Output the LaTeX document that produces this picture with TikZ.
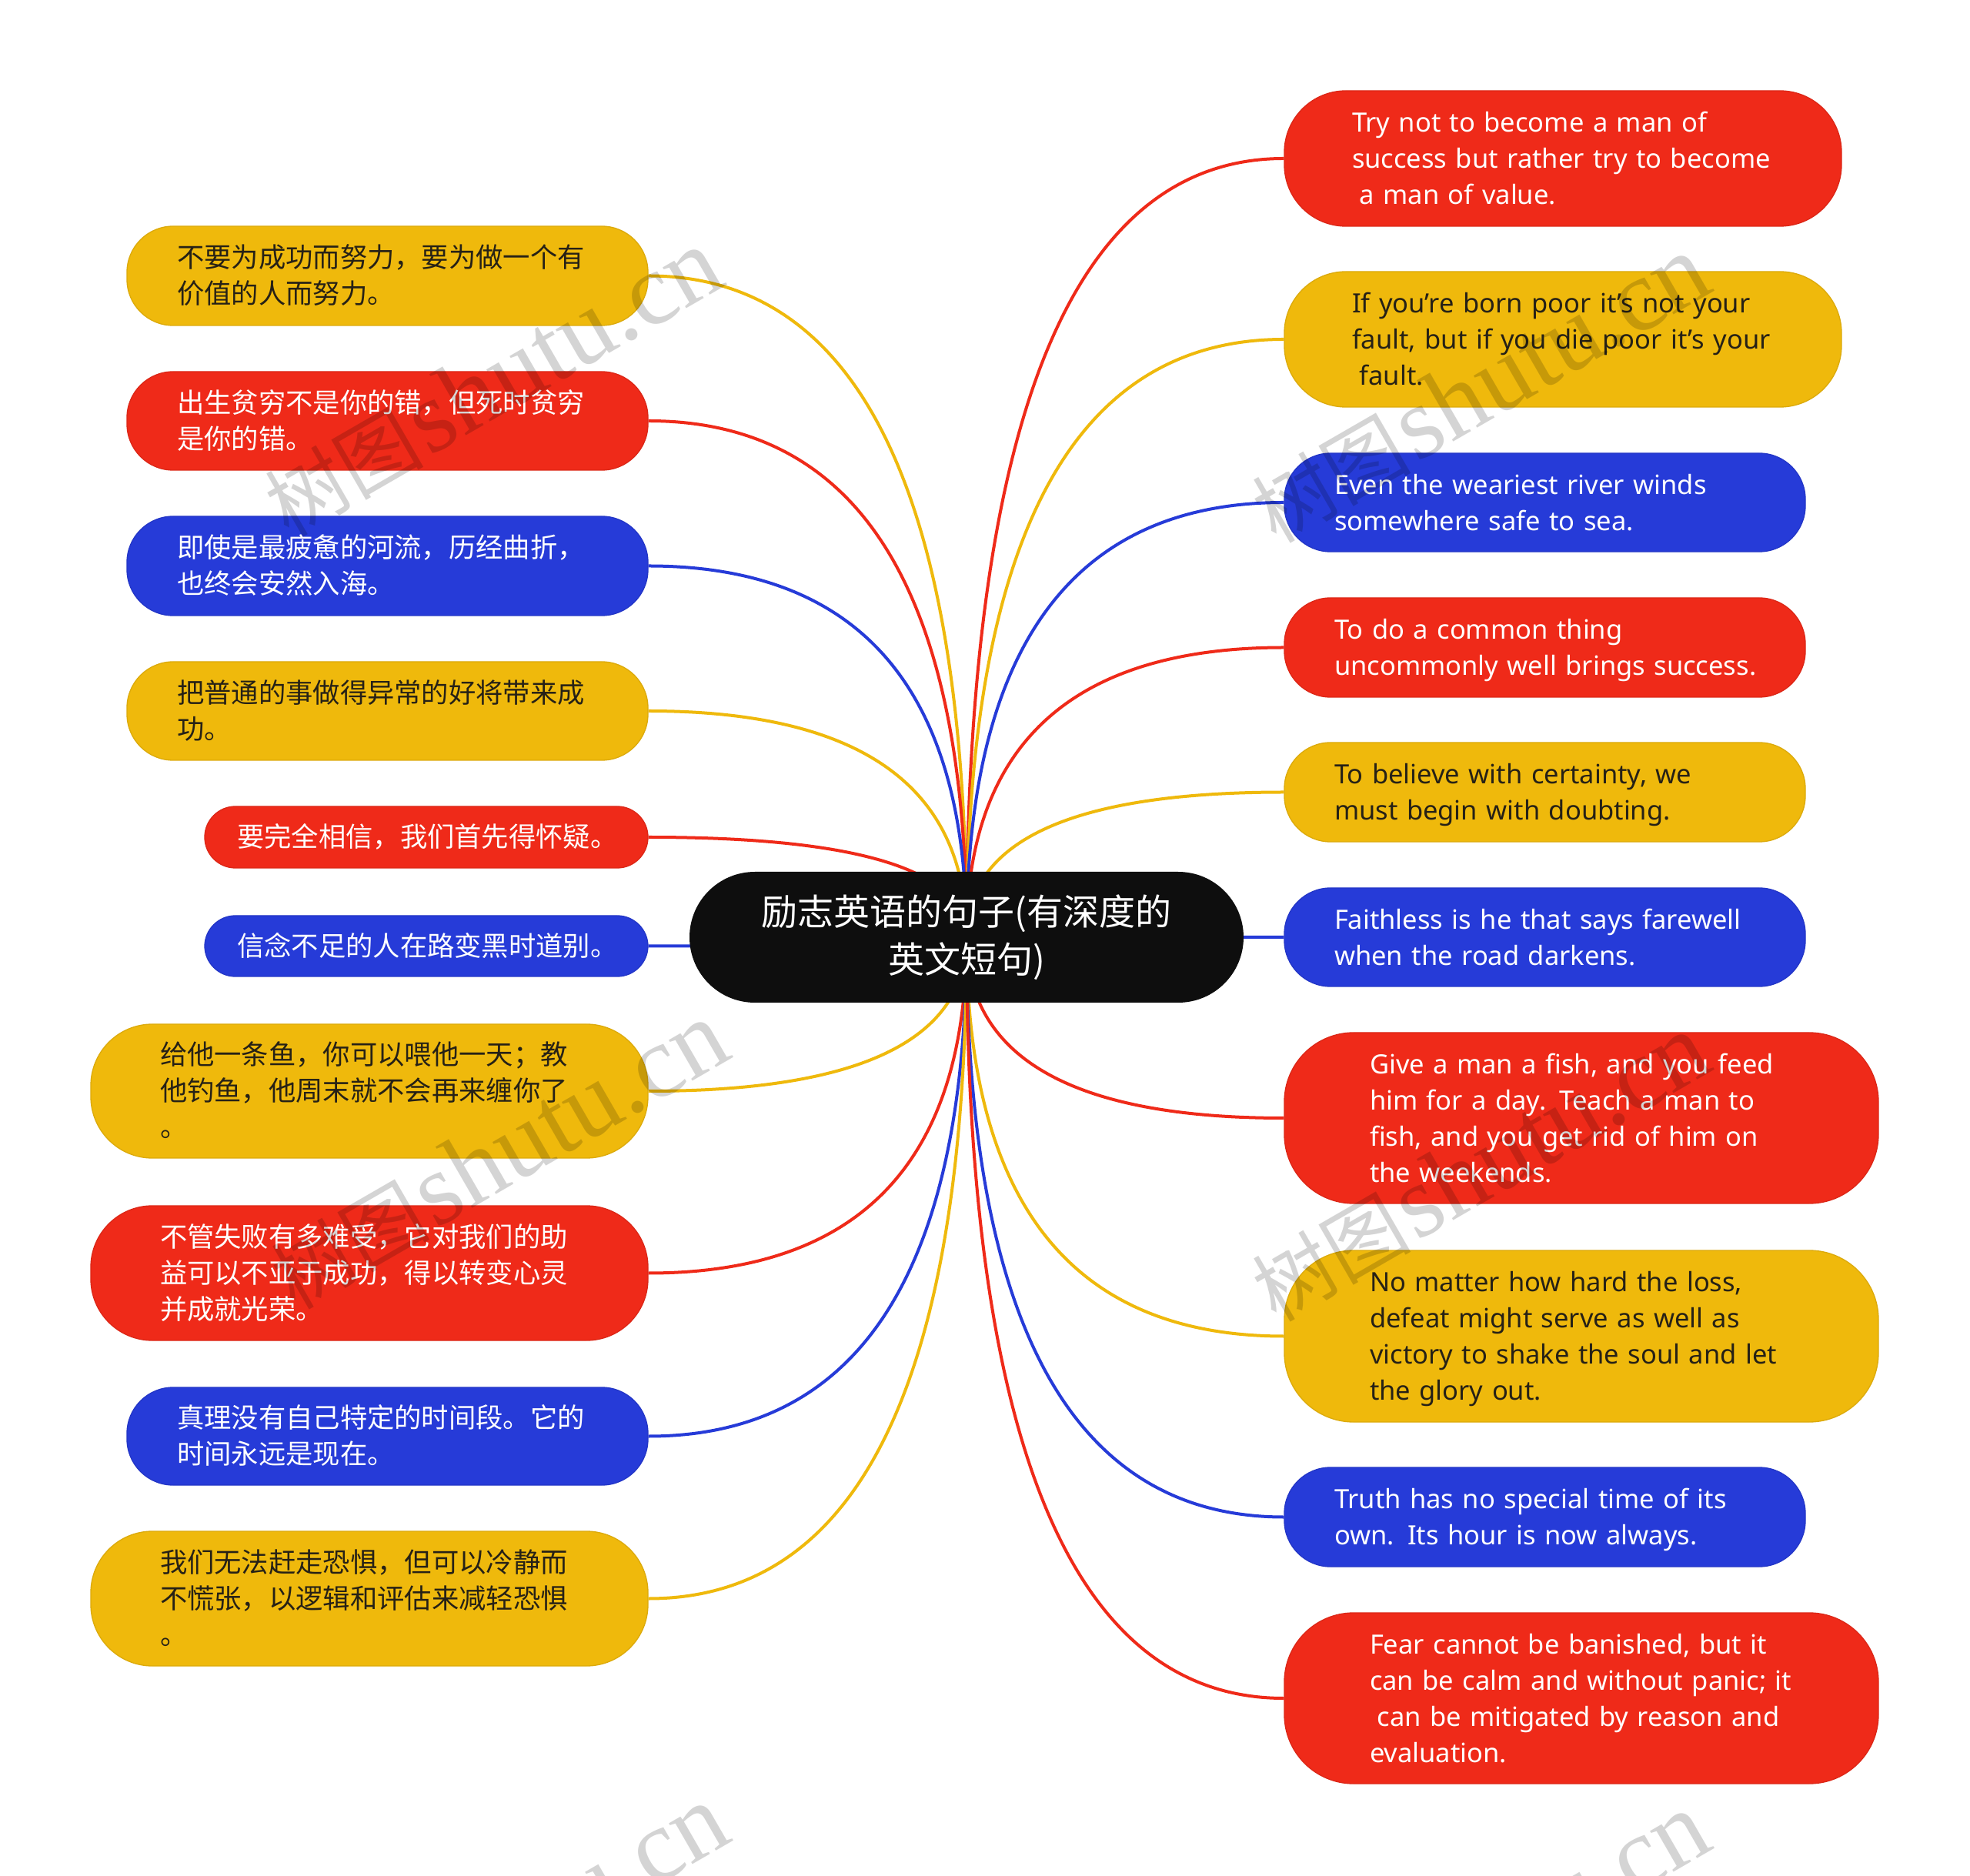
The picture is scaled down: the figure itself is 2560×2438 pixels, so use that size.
\documentclass[tikz,border=0pt]{standalone}
\usepackage{fontspec}
\setmainfont{Noto Sans}
\newfontfamily\cjk{Noto Sans CJK SC}
\newfontfamily\wmserif{Liberation Serif}
\usetikzlibrary{calc,backgrounds}
\definecolor{cR}{RGB}{239,42,25}
\definecolor{cY}{RGB}{239,185,12}
\definecolor{cB}{RGB}{38,59,216}
\definecolor{cK}{RGB}{14,14,14}
\definecolor{cT}{RGB}{38,33,22}
\tikzset{
  rbox/.style={fill=cR, draw=cR!92!black, line width=0.4pt, text=white},
  ybox/.style={fill=cY, draw=cY!92!black, line width=0.4pt, text=cT},
  bbox/.style={fill=cB, draw=cB!92!black, line width=0.4pt, text=white},
  entext/.style={font=\fontsize{10.35pt}{14.1pt}\selectfont},
  cntext/.style={font=\cjk\fontsize{10.6pt}{14.1pt}\selectfont},
  link/.style={line width=1.2pt},
  wmark/.style={text=black, opacity=0.17, rotate=30, inner sep=0pt}
}
% name, style, x1, y1, x2, y2, pad, radius, text
\newcommand\bubble[9]{%
  \pgfmathsetmacro\bcx{(#3+#5)/2}%
  \pgfmathsetmacro\bcy{(#4+#6)/2}%
  \pgfmathsetmacro\bw{(#5-#3)*0.3}%
  \pgfmathsetmacro\bh{(#6-#4)*0.3}%
  \pgfmathsetmacro\btw{(#5-#3-2*#7)*0.3}%
  \pgfmathsetmacro\br{#8*0.3}%
  \node[#2, inner sep=0pt, align=left, minimum width=\bw pt, minimum height=\bh pt,
        text width=\btw pt, rounded corners=\br pt] (#1) at (\bcx,\bcy)
        {\raisebox{-1pt}[\height][\depth]{\begin{tabular}{@{}l@{}}#9\end{tabular}}};%
}
\begin{document}
\begin{tikzpicture}[x=0.3pt, y=-0.3pt]
\useasboundingbox (0,0) rectangle (2560,2438);

% central node
\node[fill=cK, text=white, rounded corners=25.5pt, minimum width=216pt, minimum height=51pt,
      inner sep=0pt, align=center, font=\cjk\fontsize{14.1pt}{18.6pt}\selectfont]
      (root) at (1256,1218) {励志英语的句子(有深度的\\英文短句)};

% left nodes
\bubble{L1}{ybox,cntext}{165}{294}{842}{423}{65}{60}{不要为成功而努力，要为做一个有\\价值的人而努力。}
\bubble{L2}{rbox,cntext}{165}{483}{842}{611}{65}{60}{出生贫穷不是你的错，但死时贫穷\\是你的错。}
\bubble{L3}{bbox,cntext}{165}{671}{842}{800}{65}{60}{即使是最疲惫的河流，历经曲折，\\也终会安然入海。}
\bubble{L4}{ybox,cntext}{165}{860}{842}{988}{65}{60}{把普通的事做得异常的好将带来成\\功。}
\bubble{L5}{rbox,cntext}{266}{1048}{842}{1128}{42}{40}{要完全相信，我们首先得怀疑。}
\bubble{L6}{bbox,cntext}{266}{1190}{842}{1269}{42}{40}{信念不足的人在路变黑时道别。}
\bubble{L7}{ybox,cntext}{118}{1331}{842}{1505}{90}{80}{给他一条鱼，你可以喂他一天；教\\他钓鱼，他周末就不会再来缠你了\\。}
\bubble{L8}{rbox,cntext}{118}{1567}{842}{1742}{90}{80}{不管失败有多难受，它对我们的助\\益可以不亚于成功，得以转变心灵\\并成就光荣。}
\bubble{L9}{bbox,cntext}{165}{1803}{842}{1930}{65}{60}{真理没有自己特定的时间段。它的\\时间永远是现在。}
\bubble{L10}{ybox,cntext}{118}{1990}{842}{2165}{90}{80}{我们无法赶走恐惧，但可以冷静而\\不慌张，以逻辑和评估来减轻恐惧\\。}

% right nodes
\bubble{R1}{rbox,entext}{1669}{118}{2393}{294}{88}{80}{Try not to become a man of\\success but rather try to become\\\hspace*{0.28em}a man of value.}
\bubble{R2}{ybox,entext}{1669}{353}{2393}{529}{88}{80}{If you’re born poor it’s not your\\fault, but if you die poor it’s your\\\hspace*{0.28em}fault.}
\bubble{R3}{bbox,entext}{1669}{589}{2346}{717}{65}{60}{Even the weariest river winds\\somewhere safe to sea.}
\bubble{R4}{rbox,entext}{1669}{777}{2346}{906}{65}{60}{To do a common thing\\uncommonly well brings success.}
\bubble{R5}{ybox,entext}{1669}{965}{2346}{1094}{65}{60}{To believe with certainty, we\\must begin with doubting.}
\bubble{R6}{bbox,entext}{1669}{1154}{2346}{1282}{65}{60}{Faithless is he that says farewell\\when the road darkens.}
\bubble{R7}{rbox,entext}{1669}{1342}{2441}{1564}{111}{90}{Give a man a fish, and you feed\\him for a day. Teach a man to\\fish, and you get rid of him on\\the weekends.}
\bubble{R8}{ybox,entext}{1669}{1625}{2441}{1848}{111}{90}{No matter how hard the loss,\\defeat might serve as well as\\victory to shake the soul and let\\the glory out.}
\bubble{R9}{bbox,entext}{1669}{1907}{2346}{2036}{65}{60}{Truth has no special time of its\\own. Its hour is now always.}
\bubble{R10}{rbox,entext}{1669}{2096}{2441}{2318}{111}{90}{Fear cannot be banished, but it\\can be calm and without panic; it\\\hspace*{0.28em}can be mitigated by reason and\\evaluation.}

% connectors (quadratic curves from the centre of the root)
\begin{scope}[on background layer]
  \fill[white] (0,0) rectangle (2560,2438);
  \foreach \n/\c in {L1/cY,L2/cR,L3/cB,L4/cY,L5/cR,L6/cB,L7/cY,L8/cR,L9/cB,L10/cY}
    \draw[link,\c] (root.center) .. controls ($(root.center)!2/3!(root.center|-\n.east)$)
      and ($(\n.east)!2/3!(root.center|-\n.east)$) .. (\n.east);
  \foreach \n/\c in {R1/cR,R2/cY,R3/cB,R4/cR,R5/cY,R6/cB,R7/cR,R8/cY,R9/cB,R10/cR}
    \draw[link,\c] (root.center) .. controls ($(root.center)!2/3!(root.center|-\n.west)$)
      and ($(\n.west)!2/3!(root.center|-\n.west)$) .. (\n.west);
\end{scope}

% watermarks
\begin{scope}
  \clip (0,0) rectangle (2560,2438);
  \foreach \i/\x/\y in {1/640/498, 2/648/1502, 3/1923/506, 4/1923/1518, 5/648/2520, 6/1923/2530}
    \node[wmark] (wm\i) at (\x,\y) {{\cjk\fontsize{31pt}{31pt}\selectfont 树图}\,{\wmserif\fontsize{40pt}{40pt}\selectfont shutu.cn}};
\end{scope}
\end{tikzpicture}
\end{document}
